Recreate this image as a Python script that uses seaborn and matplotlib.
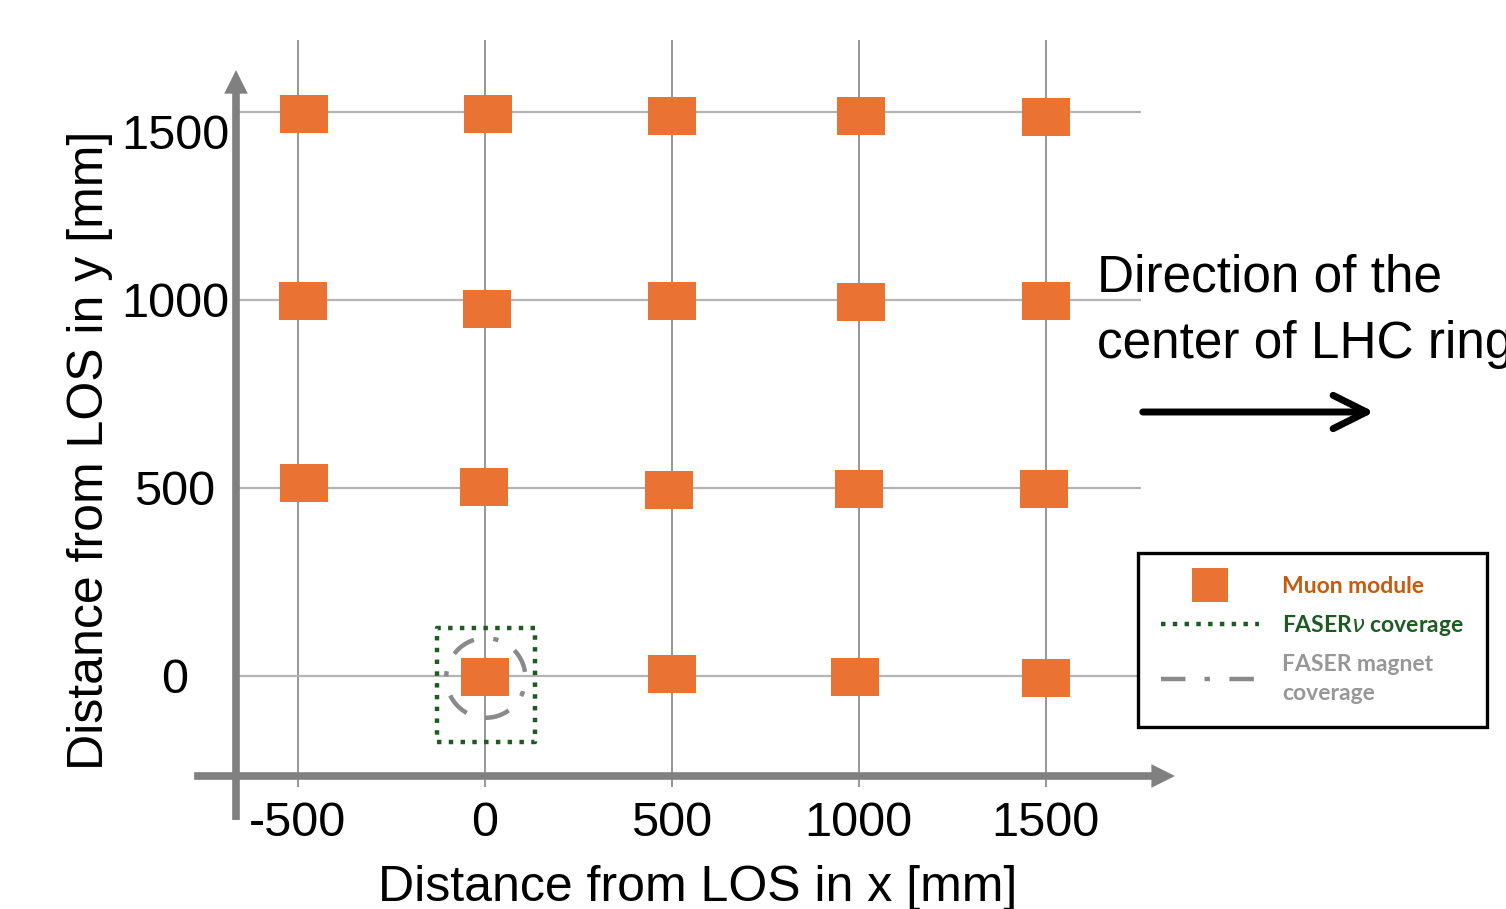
import matplotlib.pyplot as plt
import matplotlib.patches as mpatches
from matplotlib.lines import Line2D
from matplotlib.transforms import ScaledTranslation
import seaborn as sns

# muon module centres [mm]
module_x = [-482, 10, 502, 1005, 1500,
            -487, 7, 502, 1005, 1500,
            -482, -3, 494, 1000, 1497,
            2, 501, 991, 1501]
module_y = [1495, 1495, 1490, 1490, 1486,
            998, 976, 998, 995, 998,
            512, 502, 494, 497, 497,
            -3, 5, -3, -6]

x_ticks = [-500, 0, 500, 1000, 1500]
y_ticks = [0, 500, 1000, 1500]
x_tick_labels = ['-500', '0', '500', '1000', '1500']
y_tick_labels = ['0', '500', '1000', '1500']

# FASERnu coverage (box) and FASER magnet coverage (circle) [mm]
faserv_x = [-128, 135]
faserv_y = [-176, 127]
magnet_center = (3, -6)
magnet_radius = 106

legend_labels = ['Muon module', 'FASER$\\nu$ coverage', 'FASER magnet\ncoverage']

orange = '#EA7334'
green = '#1D5B22'
magnet_gray = '#8a8a8a'
axis_gray = '#808080'

sns.set_theme(style='white')
plt.rcParams['font.family'] = ['Liberation Sans', 'DejaVu Sans']

fig = plt.figure(figsize=(15.06, 9.09), dpi=100)
ax = fig.add_axes([236 / 1506, 133 / 909, 939 / 1506, 736 / 909])

# grid through the tick positions
ax.vlines(x_ticks, -295, 1692, color='#8e8e8e', lw=1.3, zorder=1, clip_on=False)
ax.hlines(y_ticks, -665, 1755, color='#b4b4b4', lw=1.6, zorder=1, clip_on=False)

# rectangular markers for the modules
box = [(-1, -0.81), (1, -0.81), (1, 0.81), (-1, 0.81), (-1, -0.81)]
sns.scatterplot(x=module_x, y=module_y, marker=box, s=34 ** 2, color=orange,
                linewidth=0, ax=ax, zorder=3, legend=False)

# coverage outlines
ax.plot([faserv_x[0], faserv_x[1], faserv_x[1], faserv_x[0], faserv_x[0]],
        [faserv_y[0], faserv_y[0], faserv_y[1], faserv_y[1], faserv_y[0]],
        color=green, lw=3.2, ls=':', zorder=2)
dashdot = (0, (5.5, 4.3, 1.2, 4.4))
ax.add_patch(mpatches.Circle(magnet_center, magnet_radius, fill=False,
                             ec=magnet_gray, lw=3.2, ls=dashdot, zorder=4))

ax.set_xlim(-665, 1846)
ax.set_ylim(-267, 1692)

# hand drawn looking axes
arrow_kw = dict(width=5.5, headwidth=17, headlength=17, shrink=0,
                color=axis_gray, lw=0)
ax.annotate('', xy=(-665, 1612), xytext=(-665, -384), arrowprops=arrow_kw,
            annotation_clip=False)
ax.annotate('', xy=(1846, -267), xytext=(-777, -267), arrowprops=arrow_kw,
            annotation_clip=False)

for s in ax.spines.values():
    s.set_visible(False)
ax.grid(False)

ax.set_xticks(x_ticks, x_tick_labels)
ax.set_yticks(y_ticks, y_tick_labels)
ax.tick_params(length=0, labelsize=35, labelcolor='black')
ax.tick_params(axis='x', pad=18)
ax.tick_params(axis='y', pad=44)
for lab in ax.get_yticklabels():
    lab.set_ha('center')
top_lab = ax.get_yticklabels()[-1]
top_lab.set_transform(top_lab.get_transform()
                      + ScaledTranslation(0, -0.19, fig.dpi_scale_trans))

ax.set_xlabel('Distance from LOS in x [mm]', fontsize=36, color='black')
ax.xaxis.set_label_coords(0.492, -0.121)
ax.set_ylabel('Distance from LOS in y [mm]', fontsize=36, color='black')
ax.yaxis.set_label_coords(-0.131, 0.443)

# direction note
fig.text(1097 / 1506, 1 - 254 / 909, 'Direction of the\ncenter of LHC ring',
         fontsize=37, va='top', ha='left', linespacing=1.45, color='black')
ax.annotate('', xy=(1377 / 1506, 1 - 412 / 909), xytext=(1140 / 1506, 1 - 412 / 909),
            xycoords='figure fraction', textcoords='figure fraction',
            arrowprops=dict(arrowstyle='->,head_length=0.4,head_width=0.2',
                            mutation_scale=60, lw=5, color='black',
                            capstyle='round', joinstyle='round'))

# legend
handles = [
    Line2D([], [], ls='none', marker=[(-1, -0.92), (1, -0.92), (1, 0.92), (-1, 0.92)],
           markersize=26, color=orange, mew=0),
    Line2D([], [], color=green, ls=':', lw=3.2),
    Line2D([], [], color=magnet_gray, lw=3.2, ls=dashdot),
]
leg = fig.legend(handles, legend_labels, loc='upper left',
                 bbox_to_anchor=(1138 / 1506, 1 - 553 / 909),
                 bbox_transform=fig.transFigure, frameon=True, fancybox=False,
                 edgecolor='black', framealpha=1, borderaxespad=0,
                 prop={'family': 'Lato', 'weight': 'bold', 'size': 16.5},
                 handlelength=4.3, handletextpad=1.0, labelspacing=0.7,
                 borderpad=1.0)
leg.get_frame().set_linewidth(2.4)
for t, c in zip(leg.get_texts(), ['#C55A11', green, '#979797']):
    t.set_color(c)
leg.get_texts()[2].set_linespacing(1.45)

fig.savefig('out.png', dpi=100)
